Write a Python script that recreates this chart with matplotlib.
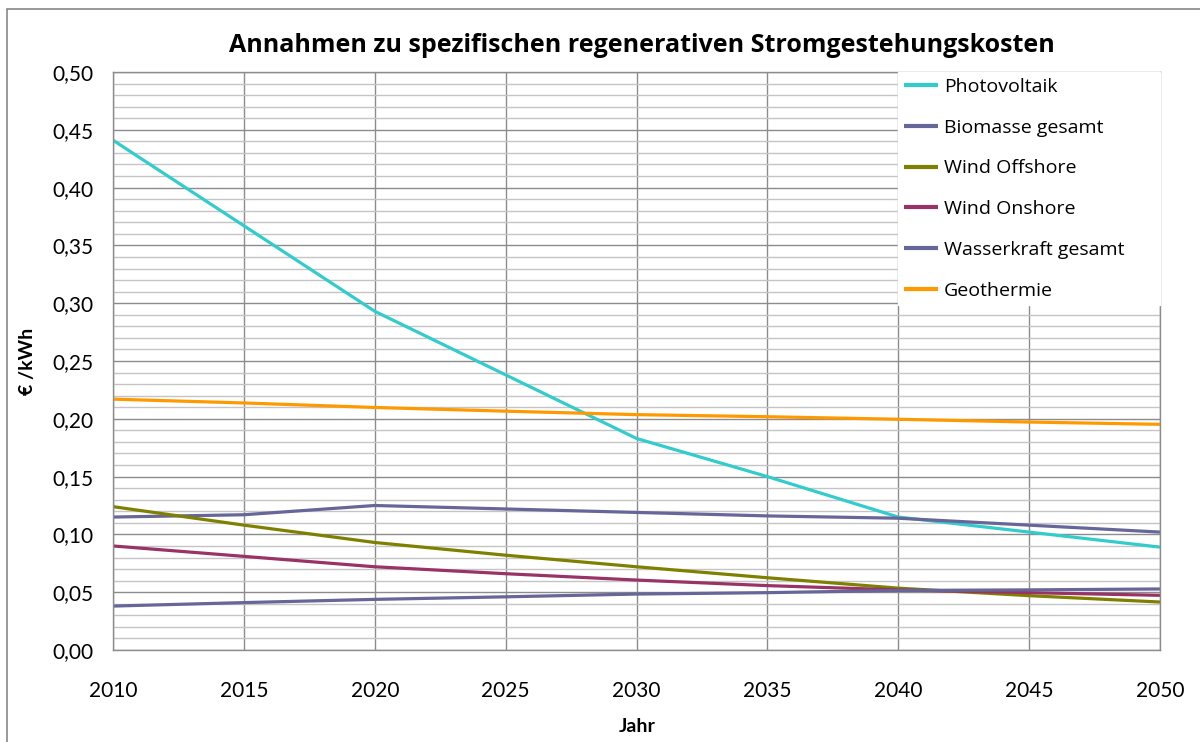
import matplotlib
matplotlib.use("Agg")
import matplotlib.pyplot as plt
from matplotlib.patches import Rectangle
from matplotlib.ticker import MultipleLocator, FuncFormatter

plt.rcParams['font.family'] = ['Lato', 'DejaVu Sans']

years = [2010, 2015, 2020, 2025, 2030, 2035, 2040, 2045, 2050]
photovoltaik = [0.441, 0.367, 0.293, 0.238, 0.183, 0.150, 0.115, 0.102, 0.089]
biomasse = [0.115, 0.117, 0.125, 0.122, 0.119, 0.116, 0.114, 0.108, 0.102]
wind_offshore = [0.124, 0.108, 0.093, 0.082, 0.072, 0.0625, 0.0535, 0.047, 0.0415]
wind_onshore = [0.090, 0.081, 0.072, 0.066, 0.0605, 0.0557, 0.052, 0.0496, 0.0473]
wasserkraft = [0.038, 0.041, 0.0438, 0.046, 0.0484, 0.0496, 0.0515, 0.052, 0.0528]
geothermie = [0.217, 0.2137, 0.2098, 0.2066, 0.2036, 0.2018, 0.1996, 0.1972, 0.1952]

series = [
    ("Photovoltaik", photovoltaik, "#33CCCC"),
    ("Biomasse gesamt", biomasse, "#666699"),
    ("Wind Offshore", wind_offshore, "#808000"),
    ("Wind Onshore", wind_onshore, "#993366"),
    ("Wasserkraft gesamt", wasserkraft, "#666699"),
    ("Geothermie", geothermie, "#FF9900"),
]

title = "Annahmen zu spezifischen regenerativen Stromgestehungskosten"
ylabel = "€ /kWh"
xlabel = "Jahr"

W, H = 1200, 742
fig = plt.figure(figsize=(W / 100, H / 100), dpi=100)
fig.patch.set_facecolor("white")

# outer chart frame (right/bottom outside image)
fig.patches.append(Rectangle((7 / W, -0.05), 1.1, (H - 9) / H + 0.05,
                             transform=fig.transFigure, fill=False,
                             edgecolor="#888888", linewidth=1.2))

ax = fig.add_axes([113 / W, (H - 650) / H, 1047 / W, 578 / H])

for name, vals, col in series:
    ax.plot(years, vals, color=col, linewidth=2.3, label=name,
            solid_capstyle="butt", solid_joinstyle="round")

ax.set_xlim(2010, 2050)
ax.set_ylim(0, 0.5)
ax.xaxis.set_major_locator(MultipleLocator(5))
ax.yaxis.set_major_locator(MultipleLocator(0.05))
ax.yaxis.set_minor_locator(MultipleLocator(0.01))
ax.yaxis.set_major_formatter(FuncFormatter(lambda v, p: f"{v:.2f}".replace(".", ",")))

ax.grid(which="minor", axis="y", color="#c4c4c4", linewidth=1.0)
ax.grid(which="major", axis="y", color="#8c8c8c", linewidth=1.0)
ax.grid(which="major", axis="x", color="#8c8c8c", linewidth=1.0)
ax.set_axisbelow(True)
for s in ax.spines.values():
    s.set_color("#8c8c8c")
    s.set_linewidth(1.0)

ax.tick_params(which="both", length=0, labelsize=15, colors="black")
ax.tick_params(axis="y", pad=14)
ax.tick_params(axis="x", pad=22)

fig.text(642 / W, 1 - 46 / H, title, ha="center", va="center",
         fontsize=18, fontweight="bold", family=["Open Sans", "DejaVu Sans"])
fig.text(27 / W, 1 - 361 / H, ylabel, ha="center", va="center",
         fontsize=14, fontweight="bold", rotation=90)
fig.text(637 / W, 1 - 727 / H, xlabel, ha="center", va="center",
         fontsize=14, fontweight="bold")

x0 = (898 - 113) / 1047
leg = ax.legend(loc="upper left", bbox_to_anchor=(x0, 0.0, 1.0 - x0, 1.0),
                mode="expand", borderaxespad=0.0,
                frameon=True, fancybox=False, framealpha=1.0,
                edgecolor="white", facecolor="white",
                prop={"family": ["Open Sans", "DejaVu Sans"], "size": 14},
                handlelength=1.75, handletextpad=0.3,
                labelspacing=1.17, borderpad=0.3)
for lh in leg.get_lines():
    lh.set_linewidth(3)

fig.savefig("out.png", dpi=100, facecolor="white")
